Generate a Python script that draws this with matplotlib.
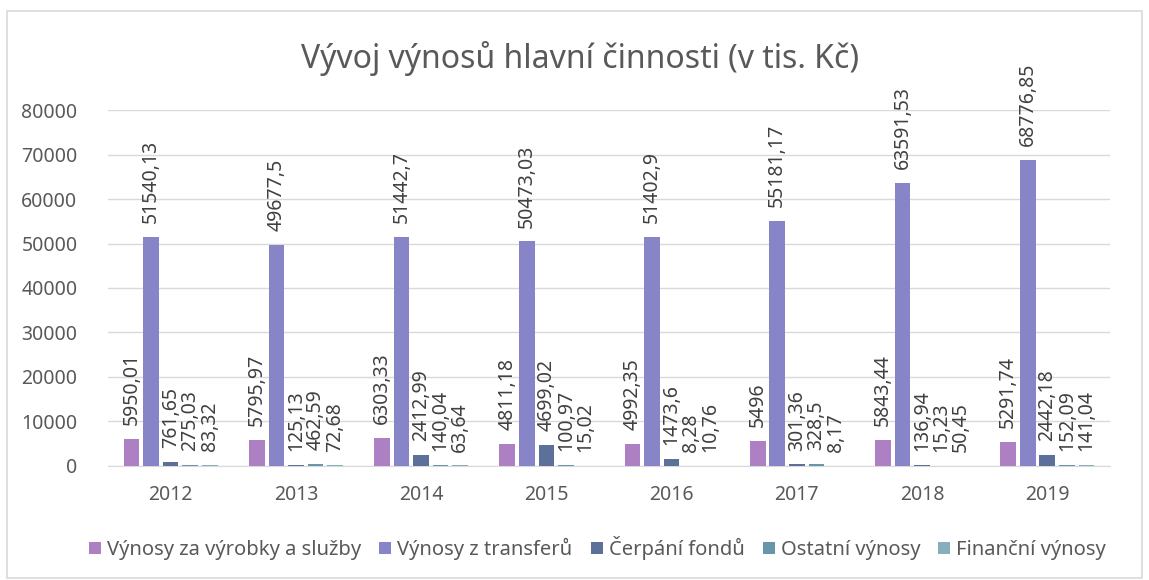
import numpy as np
import matplotlib.pyplot as plt
from matplotlib.patches import Rectangle

plt.rcParams['font.family'] = ['Noto Sans', 'DejaVu Sans']

years = ['2012', '2013', '2014', '2015', '2016', '2017', '2018', '2019']
vyrobky = [5950.01, 5795.97, 6303.33, 4811.18, 4992.35, 5496, 5843.44, 5291.74]
transfery = [51540.13, 49677.5, 51442.7, 50473.03, 51402.9, 55181.17, 63591.53, 68776.85]
cerpani = [761.65, 125.13, 2412.99, 4699.02, 1473.6, 301.36, 136.94, 2442.18]
ostatni = [275.03, 462.59, 140.04, 100.97, 8.28, 328.5, 15.23, 152.09]
financni = [83.32, 72.68, 63.64, 15.02, 10.76, 8.17, 50.45, 141.04]

series = [
    ('Výnosy za výrobky a služby', vyrobky, '#ad80c4'),
    ('Výnosy z transferů', transfery, '#8884c8'),
    ('Čerpání fondů', cerpani, '#5d7099'),
    ('Ostatní výnosy', ostatni, '#6895aa'),
    ('Finanční výnosy', financni, '#86afb9'),
]

def fmt(v):
    s = ('%.2f' % v).rstrip('0').rstrip('.')
    return s.replace('.', ',')

fig = plt.figure(figsize=(11.49, 5.80), dpi=100)
fig.patches.append(Rectangle((0.006, 0.003), 0.988, 0.978, transform=fig.transFigure,
                             fill=False, edgecolor='#d9d9d9', linewidth=1.2))
ax = fig.add_axes([0.094, 0.197, 0.872, 0.613])

x = np.arange(len(years))
step = 0.156
width = 0.125
txt = '#404040'
for i, (name, vals, col) in enumerate(series):
    pos = x + (i - 2) * step
    ax.bar(pos, vals, width, color=col, label=name, zorder=3)
    for px, v in zip(pos, vals):
        ax.annotate(fmt(v), (px, v), xytext=(0, 10), textcoords='offset points',
                    rotation=90, ha='center', va='bottom', fontsize=14, color=txt)

ax.set_ylim(0, 80000)
ax.set_xlim(-0.5, len(years) - 0.5)
ax.set_yticks(range(0, 80001, 10000))
ax.set_xticks(x)
ax.set_xticklabels(years)
ax.grid(axis='y', color='#d9d9d9', linewidth=1, zorder=0)
for s in ['top', 'right', 'left']:
    ax.spines[s].set_visible(False)
ax.spines['bottom'].set_color('#d9d9d9')
ax.tick_params(axis='both', length=0, labelsize=14, labelcolor='#595959')
ax.tick_params(axis='y', pad=22)
ax.tick_params(axis='x', pad=14)

fig.text(0.505, 0.9, 'Vývoj výnosů hlavní činnosti (v tis. Kč)', ha='center', va='center',
         fontsize=23, color='#595959')

fig.legend(loc='center', bbox_to_anchor=(0.52, 0.055), ncol=5, frameon=False,
           fontsize=14.5, labelcolor='#595959', handlelength=0.6, handleheight=0.6,
           handletextpad=0.3, columnspacing=0.9)

fig.savefig('out.png', dpi=100)
